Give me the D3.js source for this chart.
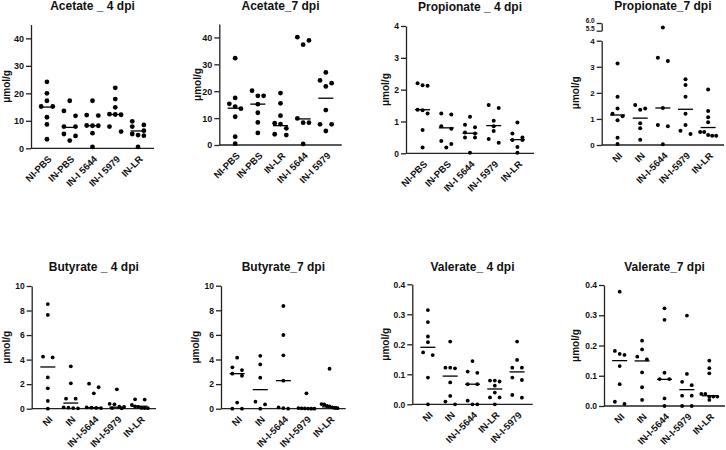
<!DOCTYPE html>
<html>
<head>
<meta charset="utf-8">
<script src="https://d3js.org/d3.v7.min.js"></script>
<style>
  body { margin: 0; background: #fff; }
  svg { display: block; font-family: "Liberation Sans", Arial, sans-serif; }
  .axis path, .axis line { stroke: #222; stroke-width: 1.3; }
  .axis text { font-weight: bold; fill: #111; }
</style>
</head>
<body>
<div id="chart"></div>
<script>
// values (umol/g)
var acetate4Groups = ["NI-PBS", "IN-PBS", "IN-I 5644", "IN-I 5979", "IN-LR"];
var acetate4Values = [
    [24.2, 20, 17.3, 15.2, 15.2, 11.3, 8.7, 3.3],
    [17.3, 13.6, 11.8, 7.9, 7.9, 5.2, 4.5, 2.8],
    [17.3, 12.1, 11.9, 8.3, 8.2, 8.2, 5.5, 0.5],
    [22, 17.9, 14.9, 12.4, 12.3, 12.2, 7.9, 6.1],
    [9.8, 8.5, 7.9, 6.4, 5.2, 4.8, 4.6, 0.5]
];
var acetate4Medians = [15, 7.6, 8.2, 12.3, 6.3];

var acetate7Groups = ["NI-PBS", "IN-PBS", "IN-LR", "IN-I 5644", "IN-I 5979"];
var acetate7Values = [
    [32.3, 17.5, 15.3, 14.3, 13.5, 10.5, 3.1, 0.5],
    [20.2, 18.3, 18.3, 15.2, 12, 8.4, 4.5],
    [19.3, 15.5, 10.9, 8.1, 7.8, 6.2, 4.0, 3.7],
    [40.1, 38.9, 37.3, 9.9, 8.3, 8.3, 0.4],
    [27, 24, 23, 21.8, 13, 7.7, 7.7, 5.2]
];
var acetate7Medians = [13.7, 15.2, 7.2, 9.7, 17.4];

var propionate4Groups = ["NI-PBS", "IN-PBS", "IN-I 5644", "IN-I 5979", "IN-LR"];
var propionate4Values = [
    [2.2, 2.14, 2.12, 1.37, 1.35, 1.25, 0.73, 0.18],
    [1.25, 1.22, 0.85, 0.77, 0.39, 0.29, 0.18],
    [1.15, 0.9, 0.82, 0.65, 0.62, 0.5, 0.5, 0.02],
    [1.52, 1.42, 1.02, 0.85, 0.7, 0.45, 0.33],
    [0.97, 0.62, 0.5, 0.42, 0.42, 0.2, 0.02]
];
var propionate4Medians = [1.37, 0.8, 0.63, 0.87, 0.43];

var propionate7Groups = ["NI", "IN", "IN-I-5644", "IN-I-5979", "IN-LR"];
var propionate7Values = [
    [3.13, 1.85, 1.4, 1.2, 1.1, 0.95, 0.28, 0.04],
    [1.53, 1.4, 1.35, 0.83, 0.64, 0.2],
    [5.7, 3.35, 3.22, 1.42, 0.77, 0.72, 0.03],
    [2.52, 2.3, 1.85, 1.2, 0.77, 0.55, 0.42],
    [2.13, 1.3, 1.06, 0.87, 0.5, 0.5, 0.38, 0.35, 0.35]
];
var propionate7Medians = [1.15, 1.03, 1.42, 1.37, 0.67];

var butyrate4Groups = ["NI", "IN", "IN-I-5644", "IN-I-5979", "IN-LR"];
var butyrate4Values = [
    [8.53, 7.64, 4.24, 4.18, 2.55, 1.66, 0.63, 0],
    [3.45, 2.07, 0.82, 0.82, 0.1, 0.08, 0.05, 0.03],
    [2.04, 1.75, 1.25, 0.1, 0.08, 0.06, 0.05],
    [1.58, 0.4, 0.36, 0.16, 0.14, 0.05, 0.03],
    [0.76, 0.74, 0.3, 0.18, 0.15, 0.06, 0.05, 0.04]
];
var butyrate4Medians = [3.4, 0.46, 0.08, 0.12, 0.2];

var butyrate7Groups = ["NI", "IN", "IN-I-5644", "IN-I-5979", "IN-LR"];
var butyrate7Values = [
    [4.15, 3.36, 3.14, 2.85, 2.68, 0.5, 0, 0],
    [4.3, 3.6, 2.52, 0.57, 0.35, 0],
    [8.35, 5.99, 4.34, 2.28, 0.1, 0.05, 0],
    [1.25, 0.05, 0.03, 0.02, 0.01, 0, 0],
    [3.25, 0.38, 0.35, 0.22, 0.18, 0.1, 0.05, 0.04]
];
var butyrate7Medians = [2.85, 1.55, 2.28, 0.02, 0.15];

var valerate4Groups = ["NI", "IN", "IN-I-5644", "IN-LR", "IN-I-5979"];
var valerate4Values = [
    [0.314, 0.274, 0.226, 0.207, 0.173, 0.164, 0.089, 0],
    [0.209, 0.122, 0.122, 0.12, 0.073, 0.028, 0.009, 0],
    [0.144, 0.109, 0.105, 0.067, 0.067, 0.012, 0, 0],
    [0.079, 0.079, 0.076, 0.062, 0.039, 0.023, 0.023, 0],
    [0.209, 0.148, 0.122, 0.122, 0.089, 0.081, 0.031, 0.022]
];
var valerate4Medians = [0.19, 0.094, 0.067, 0.051, 0.108];

var valerate7Groups = ["NI", "IN", "IN-I-5644", "IN-I-5979", "IN-LR"];
var valerate7Values = [
    [0.378, 0.182, 0.172, 0.169, 0.132, 0.072, 0.014, 0.007],
    [0.216, 0.187, 0.163, 0.154, 0.111, 0.062, 0.02],
    [0.323, 0.285, 0.11, 0.089, 0.089, 0.025, 0],
    [0.299, 0.106, 0.08, 0.069, 0.034, 0.034, 0, 0],
    [0.15, 0.125, 0.108, 0.04, 0.04, 0.031, 0.031, 0.031, 0.02]
];
var valerate7Medians = [0.15, 0.149, 0.088, 0.054, 0.034];

var width = 726,
    height = 450;

var panels = [
    { title: "Acetate _ 4 dpi", groups: acetate4Groups, values: acetate4Values, medians: acetate4Medians,
      x0: 31, x1: 154, yTop: 24.6, yBot: 148.3, max: 45, ticks: [0, 10, 20, 30, 40], fmt: "d", r: 2.4, labX: 6, titleY: 10, tf: 9 },
    { title: "Acetate_7 dpi", groups: acetate7Groups, values: acetate7Values, medians: acetate7Medians,
      x0: 219.3, x1: 341.7, yTop: 24, yBot: 145, max: 45, ticks: [0, 10, 20, 30, 40], fmt: "d", r: 2.4, labX: 197, titleY: 10, tf: 9 },
    { title: "Propionate _ 4 dpi", groups: propionate4Groups, values: propionate4Values, medians: propionate4Medians,
      x0: 406, x1: 534, yTop: 26, yBot: 153.3, max: 4, ticks: [0, 1, 2, 3, 4], fmt: "d", r: 2, labX: 385, titleY: 11, tf: 8.5 },
    { title: "Propionate_7 dpi", groups: propionate7Groups, values: propionate7Values, medians: propionate7Medians,
      x0: 601.7, x1: 724, yTop: 40.7, yBot: 145, max: 4, ticks: [0, 1, 2, 3, 4], fmt: "d", r: 2, labX: 575, titleY: 10, tf: 8,
      brk: { lo: 5.5, hi: 6, yLo: 30.7, yHi: 23 } },
    { title: "Butyrate _ 4 dpi", groups: butyrate4Groups, values: butyrate4Values, medians: butyrate4Medians,
      x0: 31.7, x1: 156, yTop: 286, yBot: 408.7, max: 10, ticks: [0, 2, 4, 6, 8, 10], fmt: "d", r: 1.9, labX: 6, titleY: 271, tf: 8.5 },
    { title: "Butyrate_7 dpi", groups: butyrate7Groups, values: butyrate7Values, medians: butyrate7Medians,
      x0: 221, x1: 345.7, yTop: 285.7, yBot: 408.7, max: 10, ticks: [0, 2, 4, 6, 8, 10], fmt: "d", r: 1.9, labX: 195, titleY: 271, tf: 8.5 },
    { title: "Valerate_ 4 dpi", groups: valerate4Groups, values: valerate4Values, medians: valerate4Medians,
      x0: 412.3, x1: 532.7, yTop: 284.3, yBot: 404.3, max: 0.4, ticks: [0, 0.1, 0.2, 0.3, 0.4], fmt: ".1f", r: 1.9, labX: 385, titleY: 271, tf: 8.5 },
    { title: "Valerate_7 dpi", groups: valerate7Groups, values: valerate7Values, medians: valerate7Medians,
      x0: 604, x1: 725, yTop: 285, yBot: 406, max: 0.4, ticks: [0, 0.1, 0.2, 0.3, 0.4], fmt: ".1f", r: 1.9, labX: 575, titleY: 271, tf: 8.5 }
];

var svg = d3.select("#chart")
    .append("svg")
    .attr("width", width)
    .attr("height", height);

panels.forEach(drawPanel);

// Prism-like scatter: points close in value share a row and spread sideways
function swarm(vals, yPos, r) {
    var pts = vals.map(function(v) { return { v: v, py: yPos(v) }; })
        .sort(function(a, b) { return a.py - b.py; });
    var rows = [], cur = null;
    pts.forEach(function(p) {
        if (cur && p.py - cur[0].py < 2 * r + 0.4) cur.push(p);
        else { cur = [p]; rows.push(cur); }
    });
    rows.forEach(function(row) {
        var n = row.length,
            s = 2 * r + 1;
        if ((n - 1) * s > 16) s = 16 / (n - 1);
        row.forEach(function(p, i) {
            if (n == 2) p.dx = (i == 0 ? -1 : 1) * s;
            else p.dx = (i - (n - 1) / 2) * s;
        });
    });
    return pts;
}

function drawPanel(p) {
    var g = svg.append("g");

    var x = d3.scalePoint()
        .domain(p.groups)
        .range([p.x0, p.x1])
        .padding(0.7);

    var y = d3.scaleLinear()
        .domain([0, p.max])
        .range([p.yBot, p.yTop]);

    var yUp = null;
    if (p.brk) {
        yUp = d3.scaleLinear()
            .domain([p.brk.lo, p.brk.hi])
            .range([p.brk.yLo, p.brk.yHi]);
    }
    function yPos(v) {
        return (yUp && v > p.max) ? yUp(v) : y(v);
    }

    // title
    g.append("text")
        .attr("x", (p.x0 + p.x1) / 2)
        .attr("y", p.titleY)
        .attr("text-anchor", "middle")
        .style("font-size", "12px")
        .style("font-weight", "bold")
        .style("fill", "#111")
        .text(p.title);

    // y axis
    var yAxis = d3.axisLeft(y)
        .tickValues(p.ticks)
        .tickFormat(d3.format(p.fmt))
        .tickSize(5)
        .tickPadding(2)
        .tickSizeOuter(0);

    g.append("g")
        .attr("class", "axis")
        .attr("transform", "translate(" + p.x0 + ",0)")
        .style("font-size", p.tf + "px")
        .call(yAxis);

    if (yUp) {
        // short upper segment of the broken axis, labels squeezed above ticks
        var up = g.append("g")
            .attr("class", "axis")
            .attr("transform", "translate(" + p.x0 + ",0)")
            .style("font-size", "6.5px")
            .call(d3.axisLeft(yUp)
                .tickValues([p.brk.hi, p.brk.lo])
                .tickFormat(d3.format(".1f"))
                .tickSize(5)
                .tickPadding(2)
                .tickSizeOuter(0));
        up.selectAll(".tick text")
            .attr("dy", "-0.1em");
    }

    // x axis line
    g.append("line")
        .attr("x1", p.x0)
        .attr("x2", p.x1)
        .attr("y1", p.yBot)
        .attr("y2", p.yBot)
        .style("stroke", "#222")
        .style("stroke-width", 1.3);

    // category labels
    g.selectAll(".xlab")
        .data(p.groups)
        .enter().append("text")
        .attr("class", "xlab")
        .attr("transform", function(d) {
            return "translate(" + (x(d) + 3) + "," + (p.yBot + 9) + ") rotate(-45)";
        })
        .attr("text-anchor", "end")
        .attr("dy", "0.35em")
        .style("font-size", "9.5px")
        .style("font-weight", "bold")
        .style("fill", "#111")
        .text(function(d) { return d; });

    // y label
    g.append("text")
        .attr("transform", "translate(" + p.labX + "," + ((p.yTop + p.yBot) / 2) + ") rotate(-90)")
        .attr("text-anchor", "middle")
        .attr("dy", "0.35em")
        .style("font-size", "10px")
        .style("font-weight", "bold")
        .style("fill", "#111")
        .text("\u03bcmol/g");

    // dots and median lines
    p.groups.forEach(function(grp, gi) {
        var pts = swarm(p.values[gi], yPos, p.r);
        g.selectAll(".dot" + gi)
            .data(pts)
            .enter().append("circle")
            .attr("cx", function(d) { return x(grp) + d.dx; })
            .attr("cy", function(d) { return d.py; })
            .attr("r", p.r)
            .style("fill", "#000");

        g.append("line")
            .attr("x1", x(grp) - 7.5)
            .attr("x2", x(grp) + 7.5)
            .attr("y1", y(p.medians[gi]))
            .attr("y2", y(p.medians[gi]))
            .style("stroke", "#000")
            .style("stroke-width", 1.3);
    });
}
</script>
</body>
</html>
